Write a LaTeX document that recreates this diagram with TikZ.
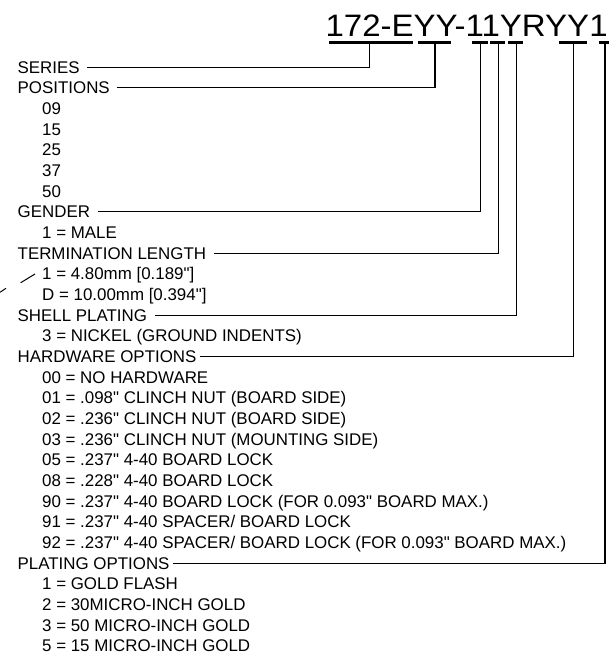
\documentclass[tikz,border=0pt]{standalone}
\usepackage{fontspec}
\newfontfamily\arialf{Liberation Sans}
\begin{document}
\begin{tikzpicture}[x=1pt,y=-1pt,
  lbl/.style={anchor=base west,inner sep=0pt,font=\arialf\fontsize{16.9}{20.67}\selectfont},
  ttl/.style={anchor=base west,inner sep=0pt,font=\arialf\fontsize{31}{36}\selectfont},
  bar/.style={line width=3.6pt},
  conn/.style={line width=1.2pt},
  slash/.style={line width=1pt}]
\useasboundingbox (0,0) rectangle (609,654);
% title
\node[ttl] (title) at (325.4,36.7) {\scalebox{1.065}[1]{172-EYY-11YRYY1}};
% underline bars
\draw[bar] (329,42.5) -- (412.7,42.5);
\draw[bar] (417.7,42.5) -- (450.7,42.5);
\draw[bar] (472.3,42.5) -- (487.7,42.5);
\draw[bar] (490.3,42.5) -- (505,42.5);
\draw[bar] (508.3,42.5) -- (523.3,42.5);
\draw[bar] (559.3,42.5) -- (587.3,42.5);
\draw[bar] (598.7,42.5) -- (612,42.5);
\coordinate (b1) at (369.3,42.5);
\coordinate (b2) at (435,42.5);
\coordinate (b3) at (480.3,42.5);
\coordinate (b4) at (498.3,42.5);
\coordinate (b5) at (516.7,42.5);
\coordinate (b6) at (573.3,42.5);
\coordinate (b7) at (605,42.5);
% labels (baseline = line centre + 6)
\node[lbl] (series)    at (17.5, 73.0) {SERIES};
\node[lbl] (positions) at (17.5, 93.7) {POSITIONS};
\node[lbl] (p09)       at (42, 114.4) {09};
\node[lbl] (p15)       at (42, 135.0) {15};
\node[lbl] (p25)       at (42, 155.7) {25};
\node[lbl] (p37)       at (42, 176.4) {37};
\node[lbl] (p50)       at (42, 197.1) {50};
\node[lbl] (gender)    at (17.5, 217.7) {GENDER};
\node[lbl] (gmale)     at (42, 238.4) {1 = MALE};
\node[lbl] (termlen)   at (17.5, 259.1) {TERMINATION LENGTH};
\node[lbl] (t1)        at (42, 279.8) {1 = 4.80mm [0.189"]};
\node[lbl] (tD)        at (42, 300.4) {D = 10.00mm [0.394"]};
\node[lbl] (shell)     at (17.5, 321.1) {SHELL PLATING};
\node[lbl] (s3)        at (42, 341.8) {3 = NICKEL (GROUND INDENTS)};
\node[lbl] (hardware)  at (17.5, 362.5) {HARDWARE OPTIONS};
\node[lbl] (h00)       at (42, 383.1) {00 = NO HARDWARE};
\node[lbl] (h01)       at (42, 403.8) {01 = .098" CLINCH NUT (BOARD SIDE)};
\node[lbl] (h02)       at (42, 424.5) {02 = .236" CLINCH NUT (BOARD SIDE)};
\node[lbl] (h03)       at (42, 445.2) {03 = .236" CLINCH NUT (MOUNTING SIDE)};
\node[lbl] (h05)       at (42, 465.8) {05 = .237" 4-40 BOARD LOCK};
\node[lbl] (h08)       at (42, 486.5) {08 = .228" 4-40 BOARD LOCK};
\node[lbl] (h90)       at (42, 507.2) {90 = .237" 4-40 BOARD LOCK (FOR 0.093" BOARD MAX.)};
\node[lbl] (h91)       at (42, 527.9) {91 = .237" 4-40 SPACER/ BOARD LOCK};
\node[lbl] (h92)       at (42, 548.5) {92 = .237" 4-40 SPACER/ BOARD LOCK (FOR 0.093" BOARD MAX.)};
\node[lbl] (plating)   at (17.5, 569.2) {PLATING OPTIONS};
\node[lbl] (pl1)       at (42, 589.9) {1 = GOLD FLASH};
\node[lbl] (pl2)       at (42, 610.6) {2 = 30MICRO-INCH GOLD};
\node[lbl] (pl3)       at (42, 631.2) {3 = 50 MICRO-INCH GOLD};
\node[lbl] (pl5)       at (42, 651.5) {5 = 15 MICRO-INCH GOLD};
% connectors
\draw[conn] (b1) |- ([xshift=7.5pt]series.east);
\draw[conn] (b2) |- ([xshift=7.5pt]positions.east);
\draw[conn] (b3) |- ([xshift=7.5pt]gender.east);
\draw[conn] (b4) |- ([xshift=7.5pt]termlen.east);
\draw[conn] (b5) |- ([xshift=7.5pt]shell.east);
\draw[conn] (b6) |- ([xshift=3pt]hardware.east);
\draw[conn] (b7) |- ([xshift=3pt]plating.east);
% stray leader fragments
\draw[slash] (20.7,282.7) -- (35,274);
\draw[slash] (0,292.3) -- (6,288.3);
\end{tikzpicture}
\end{document}
